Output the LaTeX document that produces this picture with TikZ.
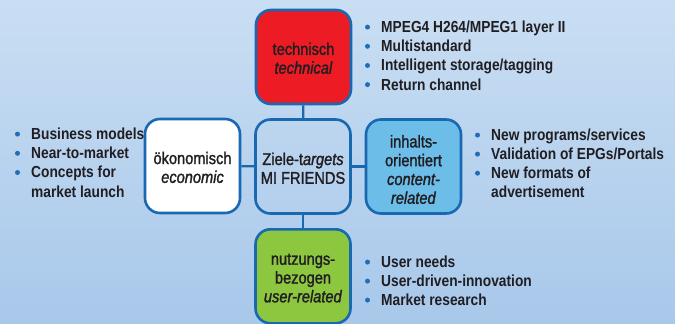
\documentclass[tikz,border=0pt]{standalone}
\usepackage{fontspec}
\setmainfont{Liberation Sans}
\newfontfamily\boxfont[FakeStretch=0.86,FakeBold=1.5]{Liberation Sans}
\newfontfamily\bulfont[FakeStretch=0.86]{Liberation Sans}
\definecolor{bgtop}{RGB}{201,222,243}
\definecolor{bgbot}{RGB}{168,200,234}
\definecolor{frame}{RGB}{24,104,178}
\definecolor{redfill}{RGB}{237,28,36}
\definecolor{bluefill}{RGB}{108,189,232}
\definecolor{greenfill}{RGB}{141,198,63}
\definecolor{ink}{RGB}{32,30,34}
\definecolor{dotblue}{RGB}{30,110,185}
\begin{document}
\begin{tikzpicture}[x=1pt,y=-1pt,
  goal/.style={draw=frame, line width=2.6pt, rounded corners=15pt,
    minimum width=95pt, minimum height=94pt, inner sep=0pt},
  goaltext/.style={inner sep=0pt, align=center, text=ink,
    font=\boxfont\fontsize{17}{18.8}\selectfont},
  link/.style={draw=frame, line width=2.4pt},
  item/.style={anchor=base west, inner sep=0pt, text=ink,
    font=\bulfont\bfseries\fontsize{16}{18}\selectfont},
  dotmark/.style={fill=dotblue},
]
\useasboundingbox (0,0) rectangle (675,324);
\shade[top color=bgtop, bottom color=bgbot] (0,0) rectangle (675,324);

% boxes
\node[goal, fill=redfill] (tech) at (303.5,57) {};
\node[goal] (core) at (303,166.5) {};
\node[goal, fill=white] (econ) at (192.5,166) {};
\node[goal, fill=bluefill] (cont) at (413.5,166.5) {};
\node[goal, fill=greenfill] (user) at (303,276.3) {};

% connectors
\draw[link] (tech) -- (core);
\draw[link] (econ) -- (core);
\draw[link] (core) -- (cont);
\draw[link] (core) -- (user);

% box texts
\node[goaltext] (techT) at ([yshift=-1.2pt]tech.center) {technisch\\\textit{technical}};
\node[goaltext] (coreT) at ([yshift=-1.8pt]core.center) {Ziele-t\textit{argets}\\MI FRIENDS};
\node[goaltext] (econT) at ([yshift=-1.4pt]econ.center) {ökonomisch\\\textit{economic}};
\node[goaltext] (contT) at ([yshift=-3pt]cont.center) {inhalts-\\orientiert\\\textit{content-}\\\textit{related}};
\node[goaltext] (userT) at ([yshift=-1.8pt]user.center) {nutzungs-\\bezogen\\\textit{user-related}};

% top list
\node[item] (t1) at (381,32.5) {MPEG4 H264/MPEG1 layer II};
\node[item] (t2) at (381,51.7) {Multistandard};
\node[item] (t3) at (381,70.9) {Intelligent storage/tagging};
\node[item] (t4) at (381,90) {Return channel};
% left list
\node[item] (l1) at (31,139.5) {Business models};
\node[item] (l2) at (31,158.7) {Near-to-market};
\node[item] (l3) at (31,177.9) {Concepts for};
\node[item] (l4) at (31,197) {market launch};
% right list
\node[item] (r1) at (491,140.5) {New programs/services};
\node[item] (r2) at (491,159.5) {Validation of EPGs/Portals};
\node[item] (r3) at (491,178.6) {New formats of};
\node[item] (r4) at (491,197.6) {advertisement};
% bottom list
\node[item] (b1) at (381,267.5) {User needs};
\node[item] (b2) at (381,286.5) {User-driven-innovation};
\node[item] (b3) at (381,305.5) {Market research};

% bullets
\foreach \n in {t1,t2,t3,t4,l1,l2,l3,r1,r2,r3,b1,b2,b3}
  \fill[dotmark] ([xshift=-13.5pt,yshift=5.4pt]\n.base west) circle (2.5pt);
\end{tikzpicture}
\end{document}
